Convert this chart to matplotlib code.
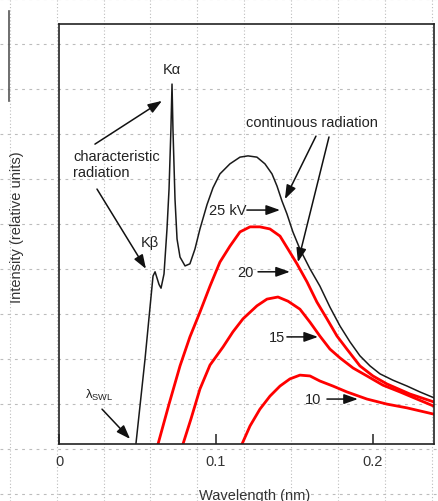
import matplotlib
matplotlib.use("Agg")
import matplotlib.pyplot as plt

plt.rcParams['font.family'] = ['Liberation Sans', 'DejaVu Sans']
plt.rcParams['mathtext.fontset'] = 'custom'
plt.rcParams['mathtext.rm'] = 'Liberation Sans'
plt.rcParams['mathtext.it'] = 'Liberation Sans:italic'

# ---- data (wavelength in nm, intensity in relative units 0-100) ----
wl_25 = [0.0490, 0.0548, 0.0599, 0.0612, 0.0637, 0.0650, 0.0669, 0.0688, 0.0701,
         0.0713, 0.0720, 0.0726, 0.0739, 0.0752, 0.0771, 0.0803, 0.0834, 0.0866,
         0.0898, 0.0943, 0.0981, 0.1025, 0.1089, 0.1153, 0.1204, 0.1261, 0.1312,
         0.1357, 0.1389, 0.1420, 0.1452, 0.1490, 0.1535, 0.1599, 0.1662, 0.1726,
         0.1790, 0.1854, 0.1917, 0.1981, 0.2045, 0.2127, 0.2217, 0.2299, 0.2389]
int_25 = [0.0, 20.2, 40.0, 41.0, 38.0, 37.1, 40.5, 51.2, 60.7,
          75.0, 85.7, 75.0, 58.3, 48.8, 44.5, 42.4, 42.9, 46.4,
          51.2, 57.0, 61.0, 64.3, 66.7, 68.3, 68.6, 68.3, 66.7,
          64.3, 61.4, 57.9, 54.8, 50.5, 46.4, 41.7, 37.6, 32.6,
          28.1, 24.3, 21.0, 18.6, 16.7, 15.2, 13.8, 12.4, 11.0]

wl_20 = [0.0631, 0.0701, 0.0771, 0.0834, 0.0898, 0.0962, 0.1025, 0.1089, 0.1153,
         0.1217, 0.1280, 0.1344, 0.1408, 0.1459, 0.1516, 0.1580, 0.1643, 0.1707,
         0.1771, 0.1834, 0.1917, 0.2000, 0.2089, 0.2236, 0.2389]
int_20 = [0.0, 9.5, 18.6, 25.5, 31.4, 37.6, 43.3, 47.1, 50.5,
          51.7, 51.7, 51.2, 49.5, 46.4, 42.9, 38.6, 33.8, 29.8,
          25.7, 22.6, 18.6, 16.2, 14.3, 11.9, 10.0]

wl_15 = [0.0790, 0.0841, 0.0898, 0.0962, 0.1045, 0.1108, 0.1172, 0.1261, 0.1325,
         0.1395, 0.1459, 0.1535, 0.1599, 0.1662, 0.1726, 0.1790, 0.1873, 0.1962,
         0.2064, 0.2172, 0.2280, 0.2389]
int_15 = [0.0, 6.0, 13.1, 18.8, 23.1, 26.7, 29.8, 32.9, 34.5,
          35.0, 34.0, 32.1, 29.0, 25.7, 22.6, 20.5, 18.1, 16.2,
          14.0, 12.4, 10.7, 9.0]

wl_10 = [0.1166, 0.1217, 0.1280, 0.1344, 0.1408, 0.1471, 0.1535, 0.1599, 0.1662,
         0.1745, 0.1834, 0.1962, 0.2089, 0.2217, 0.2389]
int_10 = [0.0, 4.3, 8.3, 11.4, 13.8, 15.5, 16.4, 16.2, 15.0,
          13.8, 12.4, 10.7, 9.5, 8.6, 7.1]

xticks = [0, 0.1, 0.2]
xticklabels = ['0', '0.1', '0.2']

W, H = 438, 502
fig = plt.figure(figsize=(W / 100, H / 100), dpi=100)

# background dotted paper grid spanning whole figure
bg = fig.add_axes([0, 0, 1, 1], zorder=-5)
bg.set_xlim(0, W)
bg.set_ylim(H, 0)
bg.axis('off')
for gx in [10, 57, 104, 150, 197, 244, 291, 338, 385, 432]:
    bg.axvline(gx, color='#bcbcbc', lw=0.8, ls=(0, (1, 2)))
for gy in [0, 45, 90, 135, 180, 225, 270, 315, 360, 405, 450, 495]:
    bg.axhline(gy, color='#bcbcbc', lw=0.8, ls=(0, (2.5, 4)))
bg.plot([9, 9], [12, 102], color='#555555', lw=1.2)

ax = fig.add_axes([59 / W, 1 - 445 / H, 375 / W, 420 / H], zorder=1)
ax.set_facecolor('none')
ax.set_xlim(0, 0.2389)
ax.set_ylim(0, 100)

ax.plot(wl_25, int_25, color='#1a1a1a', lw=1.1, solid_joinstyle='round')
ax.plot(wl_20, int_20, color='#ff0000', lw=2.0, solid_joinstyle='round')
ax.plot(wl_15, int_15, color='#ff0000', lw=2.0, solid_joinstyle='round')
ax.plot(wl_10, int_10, color='#ff0000', lw=2.0, solid_joinstyle='round')

for s in ax.spines.values():
    s.set_color('#222222')
    s.set_linewidth(1.2)
ax.set_xticks(xticks)
ax.set_xticklabels(xticklabels)
ax.tick_params(axis='x', direction='in', length=7, width=1.1, pad=7,
               labelsize=10.5, colors='#222222', labelcolor='#333333')
ax.set_yticks([])

fs = 10.5
fig.text(255 / W, 1 - 496 / H, 'Wavelength (nm)', ha='center', va='center',
         fontsize=fs, color='#333333')
fig.text(17 / W, 1 - 227 / H, 'Intensity (relative units)', ha='center', va='center',
         rotation=90, fontsize=fs, color='#333333')

tc = '#222222'
aprops = dict(arrowstyle='-|>,head_length=0.7,head_width=0.25', color='#111111',
              lw=1.1, shrinkA=0, shrinkB=0, mutation_scale=12)

ax.text(0.0720, 89.3, 'K\u03b1', ha='center', va='center', fontsize=fs, color=tc)
ax.text(0.0089, 66.7, 'characteristic\nradiation', ha='left', va='center',
        fontsize=fs, color=tc, linespacing=1.15)
ax.annotate('', xy=(0.0656, 81.7), xytext=(0.0229, 71.4), arrowprops=aprops,
            annotation_clip=False)
ax.annotate('', xy=(0.0554, 41.7), xytext=(0.0242, 60.7), arrowprops=aprops,
            annotation_clip=False)
ax.text(0.0580, 48.1, 'K\u03b2', ha='center', va='center', fontsize=fs, color=tc)

ax.text(0.0255, 11.9, r'$\mathrm{\lambda}_{\mathrm{SWL}}$', ha='center', va='center',
        fontsize=9.5, color=tc)
ax.annotate('', xy=(0.0453, 1.2), xytext=(0.0274, 8.3), arrowprops=aprops,
            annotation_clip=False)

ax.text(0.1611, 76.7, 'continuous radiation', ha='center', va='center',
        fontsize=fs, color=tc)
ax.annotate('', xy=(0.1439, 58.3), xytext=(0.1637, 73.3), arrowprops=aprops)
ax.annotate('', xy=(0.1522, 43.3), xytext=(0.1720, 73.1), arrowprops=aprops)

ax.text(0.1076, 55.7, '25 kV', ha='center', va='center', fontsize=fs, color=tc)
ax.annotate('', xy=(0.1408, 55.7), xytext=(0.1197, 55.7), arrowprops=aprops)
ax.text(0.1185, 41.0, '20', ha='center', va='center', fontsize=fs, color=tc)
ax.annotate('', xy=(0.1471, 41.0), xytext=(0.1268, 41.0), arrowprops=aprops)
ax.text(0.1389, 25.5, '15', ha='center', va='center', fontsize=fs, color=tc)
ax.annotate('', xy=(0.1650, 25.5), xytext=(0.1452, 25.5), arrowprops=aprops)
ax.text(0.1618, 10.7, '10', ha='center', va='center', fontsize=fs, color=tc)
ax.annotate('', xy=(0.1904, 10.7), xytext=(0.1707, 10.7), arrowprops=aprops)

fig.savefig('out.png', dpi=100)
